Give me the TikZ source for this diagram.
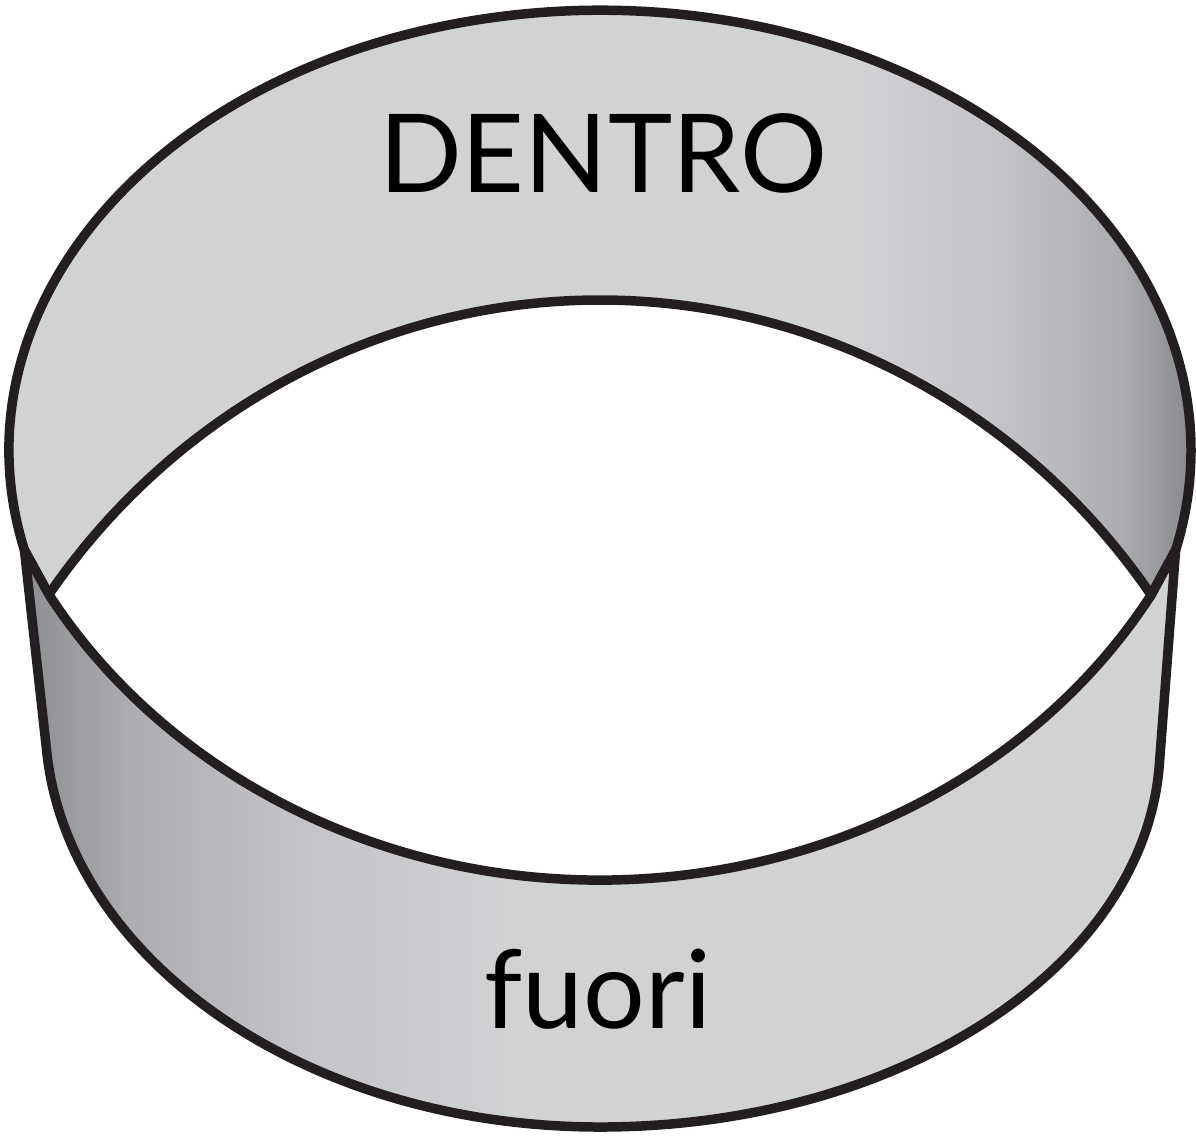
\documentclass[tikz,border=0pt]{standalone}
\usepackage{fontspec}
\setmainfont{Lato}
\definecolor{chiaro}{RGB}{209,210,212}
\definecolor{medioa}{RGB}{195,196,199}
\definecolor{mediob}{RGB}{172,173,176}
\definecolor{scuro}{RGB}{134,135,139}
\definecolor{nerobordo}{RGB}{35,31,32}
\tikzset{
	bordo/.style={line width=2.7pt, draw=nerobordo, line join=round},
	testo/.style={font=\fontsize{31}{37}\selectfont, inner sep=0pt, anchor=base}
}

\begin{document}
\begin{tikzpicture}
		\useasboundingbox (0,0) rectangle (11.96,11.36);

		\coordinate (biforcsx) at (0.244,5.86);
		\coordinate (biforcdx) at (11.756,5.86);
		\coordinate (angolosx) at (0.488,5.41);
		\coordinate (angolodx) at (11.512,5.41);
		\coordinate (fiancosx) at (0.464,3.876);

		% parete dietro, vista da dentro
		\draw[bordo, path picture={
				\fill[chiaro] (0,0) rectangle (11.96,11.36);
				\foreach \a/\b/\ca/\cb in {8.5/10.0/chiaro/medioa, 9.99/11.2/medioa/mediob, 11.19/11.96/mediob/scuro}
					\shade[left color=\ca, right color=\cb] (\a,0) rectangle (\b,11.36);
			}]
			(angolosx) -- (biforcsx)
			arc[start angle=193.1, end angle=-13.1, x radius=5.91, y radius=4.40]
			-- (angolodx)
			arc[start angle=35.35, end angle=144.65, x radius=6.76, y radius=7.00]
			-- cycle;

		% parete davanti, vista da fuori
		\draw[bordo, path picture={
				\fill[chiaro] (0,0) rectangle (11.96,11.36);
				\foreach \a/\b/\ca/\cb in {0/1.3/scuro/mediob, 1.29/3.0/mediob/medioa, 2.99/5.2/medioa/chiaro}
					\shade[left color=\ca, right color=\cb] (\a,0) rectangle (\b,11.36);
			}]
			(biforcsx) -- (fiancosx)
			arc[start angle=184, end angle=270, x radius=5.55, y radius=4.07]
			arc[start angle=270, end angle=357, x radius=5.60, y radius=3.82]
			-- (biforcdx)
			-- (angolodx)
			arc[start angle=329.43, end angle=210.57, x radius=6.40, y radius=5.80]
			-- cycle;

		\node[testo] (dentro) at (6.03,9.44) {DENTRO};
		\node[testo] (fuori) at (5.98,1.08) {fuori};
	\end{tikzpicture}
\end{document}
